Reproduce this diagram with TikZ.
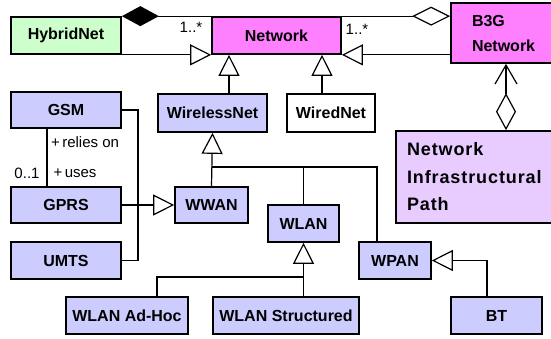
\documentclass[tikz,border=0pt]{standalone}
\usepackage{fontspec}
\setmainfont{Liberation Sans}
\usetikzlibrary{arrows.meta}
\definecolor{hybgreen}{HTML}{CCFFCC}
\definecolor{netmag}{HTML}{FF80FF}
\definecolor{classblue}{HTML}{CCCCFF}
\definecolor{niplav}{HTML}{E8CCFF}
\begin{document}
\begin{tikzpicture}[x=1pt,y=-1pt,
  box/.style={draw, line width=1.7pt, fill=classblue, minimum height=37pt, inner sep=0pt,
    font=\fontsize{16}{19}\selectfont\bfseries},
  conn/.style={line width=1.2pt},
  gen/.style={conn, -{Triangle[length=21pt,width=21pt,fill=white]}},
  lbl/.style={font=\fontsize{15}{18}\selectfont, inner sep=0pt}
]
\useasboundingbox (0,0) rectangle (551,339);
\clip (0,0) rectangle (551,339);

% classes
\node[box, fill=hybgreen, minimum width=110pt] (hyb) at (66,35.5) {HybridNet};
\node[box, fill=netmag, minimum width=129pt] (net) at (276.5,35.5) {Network};
\node[box, fill=netmag, minimum height=60pt, inner xsep=21pt, text width=66pt, align=left,
  font=\fontsize{16}{25}\selectfont\bfseries] (b3g) at (505,33) {B3G\\Network};
\node[box, minimum width=109pt, minimum height=38pt] (wless) at (212.5,113) {WirelessNet};
\node[box, fill=white, minimum width=88pt, minimum height=38pt] (wired) at (331,113) {WiredNet};
\node[box, fill=niplav, minimum height=92pt, inner xsep=11pt, text width=140pt, align=left,
  font=\fontsize{18}{27.5}\selectfont\bfseries\addfontfeature{LetterSpace=5}] (nip) at (477,177)
  {Network\\Infrastructural\\Path};
\node[box, minimum width=110pt, minimum height=36pt] (gsm) at (66,110) {GSM};
\node[box, minimum width=110pt, minimum height=36pt] (gprs) at (66,205) {GPRS};
\node[box, minimum width=110pt] (umts) at (66,260.5) {UMTS};
\node[box, minimum width=73pt, minimum height=36pt] (wwan) at (211.5,205) {WWAN};
\node[box, minimum width=71pt] (wlan) at (303.5,223.5) {WLAN};
\node[box, minimum width=72pt] (wpan) at (395,260.5) {WPAN};
\node[box, minimum width=122pt] (adhoc) at (127,315.5) {WLAN Ad-Hoc};
\node[box, minimum width=146pt] (struct) at (286,315.5) {WLAN Structured};
\node[box, minimum width=91pt] (bt) at (496.5,315.5) {BT};

% helper coordinates
\coordinate (wnx) at (229,0);
\coordinate (wdx) at (322,0);
\coordinate (bgx) at (506,0);
\coordinate (bus) at (138,0);
\coordinate (assx) at (47,0);
\coordinate (jy) at (0,167);
\coordinate (wpx) at (377,0);
\coordinate (wly) at (0,277);
\coordinate (adx) at (157,0);
\coordinate (btx) at (487,0);

% HybridNet -- Network
\draw[conn, {Diamond[length=37pt,width=20pt]}-] (hyb.north east) -- (net.north west);
\node[lbl] (m1) at (191,27) {1..*};
\draw[gen] (hyb.south east) -- (net.south west);

% B3G -- Network
\draw[conn, -{Diamond[length=38pt,width=19pt,fill=white]}] (net.north east) -- (b3g.west |- net.north east);
\node[lbl] (m2) at (357,29) {1..*};
\draw[gen] (b3g.west |- net.south east) -- (net.south east);

% B3G -- NIP
\draw[conn, {Straight Barb[length=19pt,width=22pt]}-{Diamond[length=37pt,width=20pt,fill=white]}]
  (b3g.south -| bgx) -- (nip.north -| bgx);

% Network specialisations
\draw[gen] (wless.north -| wnx) -- (net.south -| wnx);
\draw[gen] (wired.north -| wdx) -- (net.south -| wdx);

% GSM / GPRS / UMTS -> WWAN
\draw[conn] (gsm.east) -- (gsm.east -| bus) -- (umts.east -| bus) -- (umts.east);
\draw[gen] (gprs.east) -- (wwan.west);

% GSM -- GPRS association
\draw[conn] (gsm.south -| assx) -- (gprs.north -| assx);
\node[lbl] (r1) at (85,142) {+\,relies on};
\node[lbl] (r2) at (27,173) {0..1};
\node[lbl] (r3) at (75,173) {+\,uses};

% WirelessNet specialisations
\draw[gen] (wwan.north) -- (wless.south);
\draw[conn] (wwan.north |- jy) -- (wpx |- jy) -- (wpan.north -| wpx);
\draw[conn] (wlan.north) -- (wlan.north |- jy);

% WLAN specialisations
\draw[gen] (struct.north -| wlan.south) -- (wlan.south);
\draw[conn] (wlan.south |- wly) -- (adx |- wly) -- (adhoc.north -| adx);

% BT -> WPAN
\draw[gen] (bt.north -| btx) |- (wpan.east);
\end{tikzpicture}
\end{document}
